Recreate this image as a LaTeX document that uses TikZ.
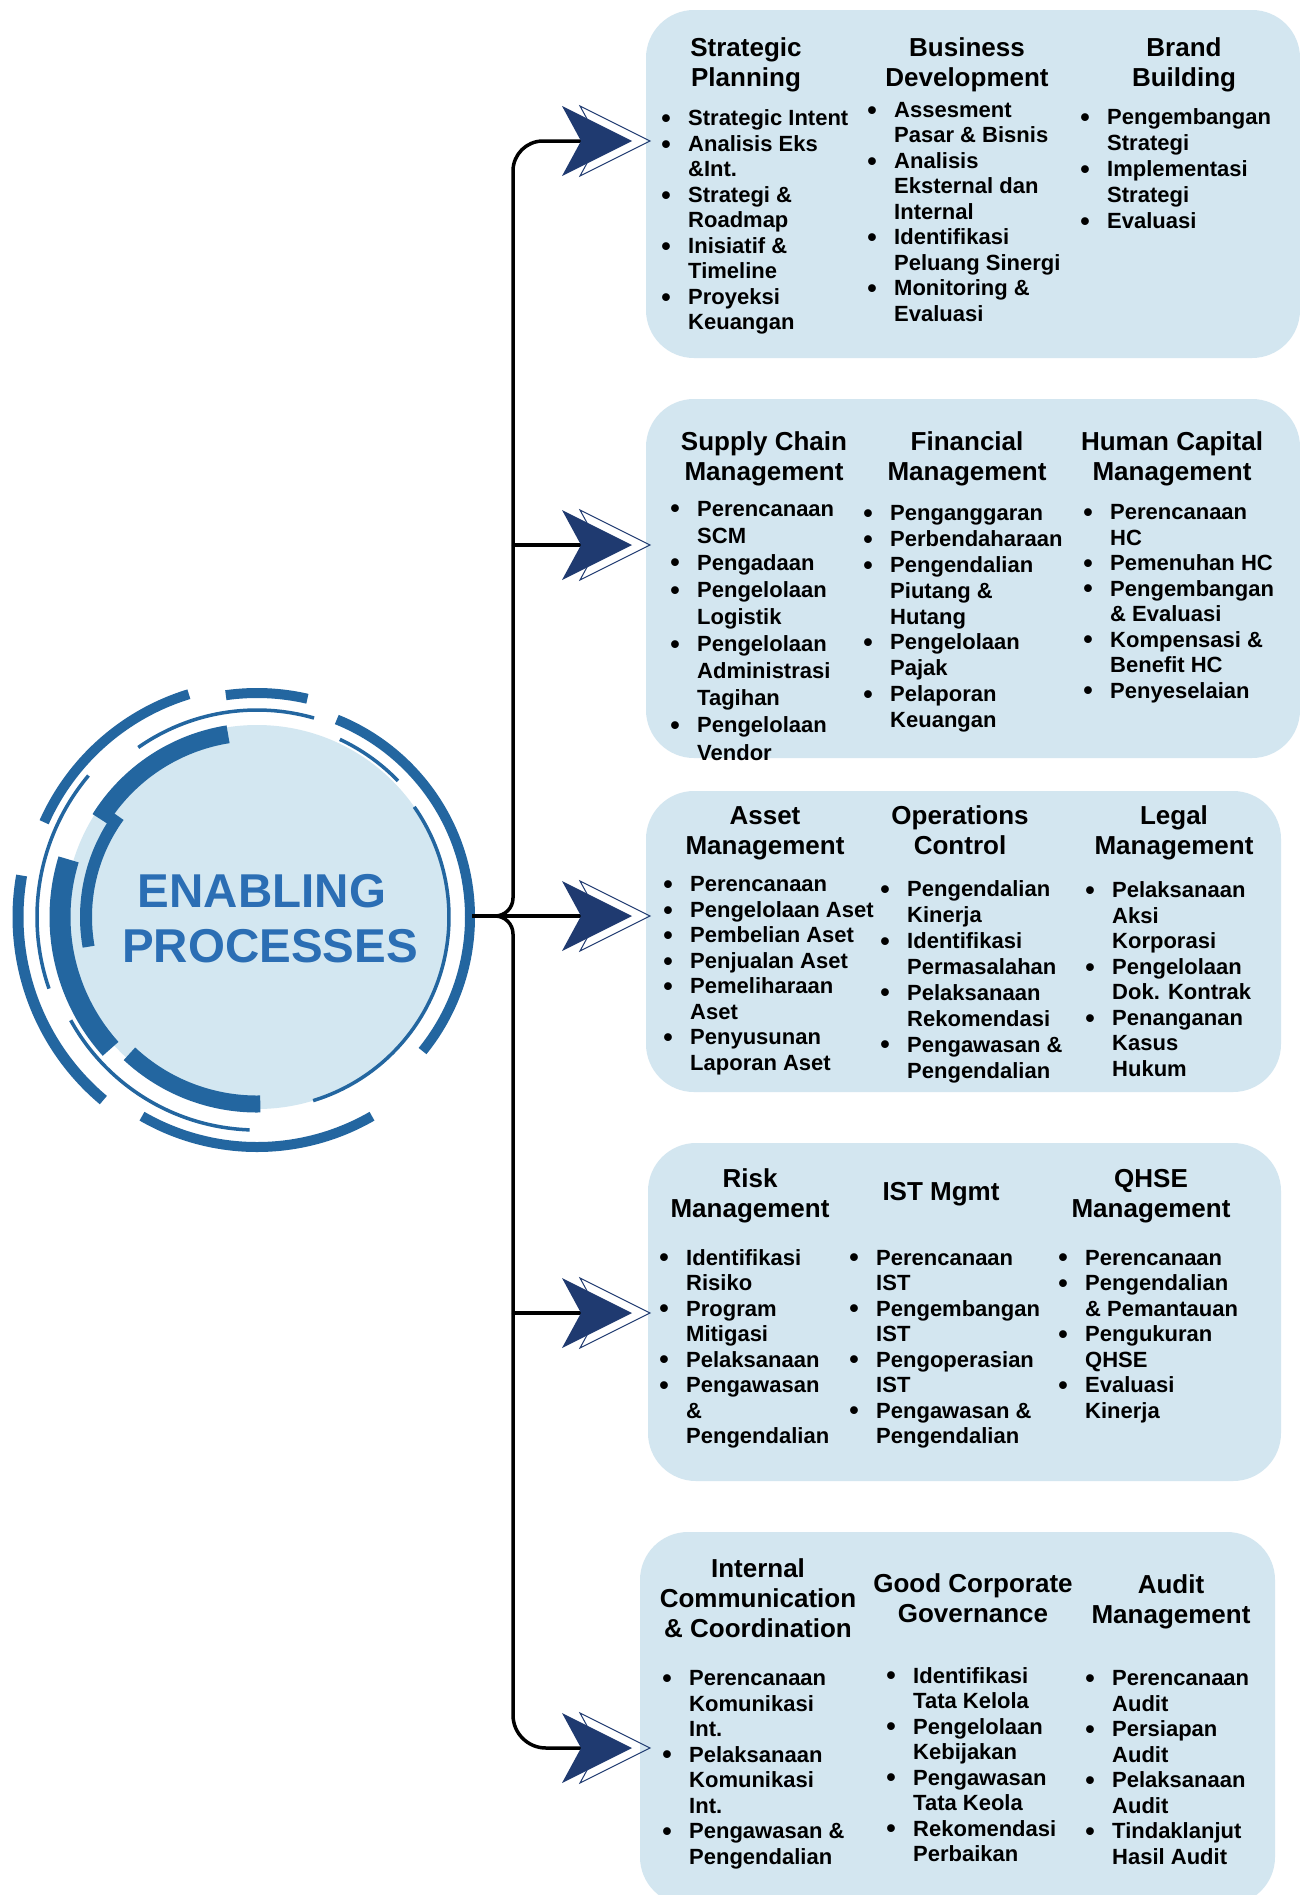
\documentclass[tikz,border=0pt]{standalone}
\usepackage{fontspec}
\setmainfont{Liberation Sans}
\usetikzlibrary{calc}
\definecolor{boxc}{HTML}{D3E6F0}
\definecolor{circc}{HTML}{D3E7F1}
\definecolor{arcc}{HTML}{2366A0}
\definecolor{titlec}{HTML}{2B6EB4}
\definecolor{navy}{HTML}{1F3A70}
\newlength\bw \setlength\bw{26pt}
\newcommand\xbul{\makebox[\bw][l]{\hspace*{-0.8pt}\raisebox{-1.6pt}{\fontsize{27}{27}\selectfont\textbullet}}}
\newcommand\xcont{\hspace*{\bw}}
\newcommand\lstrut{\rule{0pt}{20pt}}
\newcommand\hstrut{\rule{0pt}{22pt}}
\begin{document}
\begin{tikzpicture}[x=1pt,y=-1pt,
  box/.style={fill=boxc, rounded corners=48pt, inner sep=0pt, draw=none},
  hdr/.style={anchor=north, align=center, inner sep=0pt, font=\bfseries\fontsize{26}{30}\selectfont},
  lst/.style={anchor=north west, align=left, inner sep=0pt, font=\bfseries\fontsize{22}{25.5}\selectfont},
  conn/.style={line width=3.5pt, draw=black},
  ttl/.style={anchor=base, inner sep=0pt, text=titlec, font=\bfseries\fontsize{47.5}{55}\selectfont},
  ring/.style={draw=arcc},
  navarr/.pic={
    \draw[navy, line width=1pt] (18,-35) -- (88,0) -- (18,35) -- (37,0) -- cycle;
    \fill[navy] (0,-35) -- (70,0) -- (0,35) -- (19,0) -- cycle;
  }]
\useasboundingbox (0,0) rectangle (1300,1895);
\fill[white] (0,0) rectangle (1300,1895);

% boxes
\node[box, minimum width=654pt, minimum height=348pt] (B1) at (973,184) {};
\node[box, minimum width=654pt, minimum height=359pt] (B2) at (973,578.5) {};
\node[box, minimum width=635pt, minimum height=301pt] (B3) at (963.5,941.5) {};
\node[box, minimum width=633pt, minimum height=338pt] (B4) at (964.5,1312) {};
\node[box, minimum width=635pt, minimum height=373pt] (B5) at (957.5,1718.5) {};

% circle
\node[circle, fill=circc, minimum size=384pt, inner sep=0pt] (C) at (257,917) {};
\begin{scope}[shift={(C.center)}, yscale=-1]
  \draw[ring, line width=10pt] (240:230) arc[start angle=240, end angle=300, radius=230];
  \draw[ring, line width=11pt] (170:239) arc[start angle=170, end angle=230, radius=239];
  \draw[ring, line width=10pt] (107:233) arc[start angle=107, end angle=156, radius=233];
  \draw[ring, line width=10pt] (77:224) arc[start angle=77, end angle=98, radius=224];
  \draw[ring, line width=10pt] (-39:213) arc[start angle=-39, end angle=68, radius=213];
  \draw[ring, line width=3.5pt] (140:220) arc[start angle=140, end angle=199, radius=220];
  \draw[ring, line width=3.5pt] (74:207) arc[start angle=74, end angle=125, radius=207];
  \draw[ring, line width=3.5pt] (44:196) arc[start angle=44, end angle=65, radius=196];
  \draw[ring, line width=3.5pt] (-73:192) arc[start angle=-73, end angle=35, radius=192];
  \draw[ring, line width=3.5pt] (209:213) arc[start angle=209, end angle=268, radius=213];
  \draw[ring, line width=18pt] (99:185) arc[start angle=99, end angle=148, radius=185];
  \draw[ring, line width=21pt] (163:197) arc[start angle=163, end angle=222, radius=197];
  \draw[ring, line width=17pt] (227:187) arc[start angle=227, end angle=271, radius=187];
  \draw[ring, line width=12pt] (144:171) arc[start angle=144, end angle=190, radius=171];
\end{scope}
\node[ttl] (T1) at (262,907) {ENABLING};
\node[ttl] (T2) at (270,962) {PROCESSES};

% connectors
\coordinate (J) at (472,916);
\coordinate (K2) at (513,545);
\coordinate (K4) at (513,1313);
\coordinate (a1) at (581,141);
\coordinate (a2) at (581,545);
\coordinate (a3) at (581,916);
\coordinate (a4) at (581,1313);
\coordinate (a5) at (581,1748);
\draw[conn, rounded corners=30pt] (a1) -| (K2);
\draw[conn, rounded corners=18pt] (J) -| (K2);
\draw[conn, rounded corners=18pt] (J) -| (K4);
\draw[conn, rounded corners=33pt] (a5) -| (K4);
\draw[conn] (K2) -- (a2);
\draw[conn] (J) -- (a3);
\draw[conn] (K4) -- (a4);

% arrows
\pic at (562,141) {navarr};
\pic at (562,545) {navarr};
\pic at (562,916) {navarr};
\pic at (562,1313) {navarr};
\pic at (562,1748) {navarr};

% box 1
\node[hdr] (H11) at (746,34) {\hstrut Strategic\\Planning};
\node[hdr] (H12) at (967,34) {\hstrut Business\\Development};
\node[hdr] (H13) at (1184,34) {\hstrut Brand\\Building};
\node[lst] (L11) at (662,105.7) {\lstrut\xbul Strategic Intent\\ \xbul Analisis Eks\\ \xcont \&Int.\\ \xbul Strategi \&\\ \xcont Roadmap\\ \xbul Inisiatif \&\\ \xcont Timeline\\ \xbul Proyeksi\\ \xcont Keuangan};
\node[lst] (L12) at (868,97.2) {\lstrut\xbul Assesment\\ \xcont Pasar \& Bisnis\\ \xbul Analisis\\ \xcont Eksternal dan\\ \xcont Internal\\ \xbul Identifikasi\\ \xcont Peluang Sinergi\\ \xbul Monitoring \&\\ \xcont Evaluasi};
\node[lst, font=\bfseries\fontsize{22}{26}\selectfont] (L13) at (1081,104.4) {\lstrut\xbul Pengembangan\\ \xcont Strategi\\ \xbul Implementasi\\ \xcont Strategi\\ \xbul Evaluasi};

% box 2
\node[hdr] (H21) at (764,428) {\hstrut Supply Chain\\Management};
\node[hdr] (H22) at (967,428) {\hstrut Financial\\Management};
\node[hdr] (H23) at (1172,428) {\hstrut Human Capital\\Management};
\node[lst, font=\bfseries\fontsize{22}{27.1}\selectfont] (L21) at (671,495.9) {\lstrut\xbul Perencanaan\\ \xcont SCM\\ \xbul Pengadaan\\ \xbul Pengelolaan\\ \xcont Logistik\\ \xbul Pengelolaan\\ \xcont Administrasi\\ \xcont Tagihan\\ \xbul Pengelolaan\\ \xcont Vendor};
\node[lst, font=\bfseries\fontsize{22}{25.8}\selectfont] (L22) at (864,500.7) {\lstrut\xbul Penganggaran\\ \xbul Perbendaharaan\\ \xbul Pengendalian\\ \xcont Piutang \&\\ \xcont Hutang\\ \xbul Pengelolaan\\ \xcont Pajak\\ \xbul Pelaporan\\ \xcont Keuangan};
\node[lst] (L23) at (1084,499.5) {\lstrut\xbul Perencanaan\\ \xcont HC\\ \xbul Pemenuhan HC\\ \xbul Pengembangan\\ \xcont \& Evaluasi\\ \xbul Kompensasi \&\\ \xcont Benefit HC\\ \xbul Penyeselaian};

% box 3
\node[hdr] (H31) at (765,802.6) {\hstrut Asset\\Management};
\node[hdr] (H32) at (960,802.6) {\hstrut Operations\\Control};
\node[hdr] (H33) at (1174,802.6) {\hstrut Legal\\Management};
\node[lst] (L31) at (664,871.7) {\lstrut\xbul Perencanaan\\ \xbul Pengelolaan Aset\\ \xbul Pembelian Aset\\ \xbul Penjualan Aset\\ \xbul Pemeliharaan\\ \xcont Aset\\ \xbul Penyusunan\\ \xcont Laporan Aset};
\node[lst, font=\bfseries\fontsize{22}{25.9}\selectfont] (L32) at (881,876.5) {\lstrut\xbul Pengendalian\\ \xcont Kinerja\\ \xbul Identifikasi\\ \xcont Permasalahan\\ \xbul Pelaksanaan\\ \xcont Rekomendasi\\ \xbul Pengawasan \&\\ \xcont Pengendalian};
\node[lst] (L33) at (1086,877.7) {\lstrut\xbul Pelaksanaan\\ \xcont Aksi\\ \xcont Korporasi\\ \xbul Pengelolaan\\ \xcont Dok. Kontrak\\ \xbul Penanganan\\ \xcont Kasus\\ \xcont Hukum};

% box 4
\node[hdr] (H41) at (750,1165) {\hstrut Risk\\Management};
\node[hdr] (H42) at (941,1178.4) {\hstrut IST Mgmt};
\node[hdr] (H43) at (1151,1165) {\hstrut QHSE\\Management};
\node[lst] (L41) at (660,1245) {\lstrut\xbul Identifikasi\\ \xcont Risiko\\ \xbul Program\\ \xcont Mitigasi\\ \xbul Pelaksanaan\\ \xbul Pengawasan\\ \xcont \&\\ \xcont Pengendalian};
\node[lst] (L42) at (850,1245) {\lstrut\xbul Perencanaan\\ \xcont IST\\ \xbul Pengembangan\\ \xcont IST\\ \xbul Pengoperasian\\ \xcont IST\\ \xbul Pengawasan \&\\ \xcont Pengendalian};
\node[lst] (L43) at (1059,1245) {\lstrut\xbul Perencanaan\\ \xbul Pengendalian\\ \xcont \& Pemantauan\\ \xbul Pengukuran\\ \xcont QHSE\\ \xbul Evaluasi\\ \xcont Kinerja};

% box 5
\node[hdr] (H51) at (758,1555.3) {\hstrut Internal\\Communication\\\& Coordination};
\node[hdr] (H52) at (973,1569.8) {\hstrut Good Corporate\\Governance};
\node[hdr] (H53) at (1171,1571) {\hstrut Audit\\Management};
\node[lst] (L51) at (663,1665.4) {\lstrut\xbul Perencanaan\\ \xcont Komunikasi\\ \xcont Int.\\ \xbul Pelaksanaan\\ \xcont Komunikasi\\ \xcont Int.\\ \xbul Pengawasan \&\\ \xcont Pengendalian};
\node[lst] (L52) at (887,1663) {\lstrut\xbul Identifikasi\\ \xcont Tata Kelola\\ \xbul Pengelolaan\\ \xcont Kebijakan\\ \xbul Pengawasan\\ \xcont Tata Keola\\ \xbul Rekomendasi\\ \xcont Perbaikan};
\node[lst] (L53) at (1086,1665.4) {\lstrut\xbul Perencanaan\\ \xcont Audit\\ \xbul Persiapan\\ \xcont Audit\\ \xbul Pelaksanaan\\ \xcont Audit\\ \xbul Tindaklanjut\\ \xcont Hasil Audit};
\end{tikzpicture}
\end{document}
